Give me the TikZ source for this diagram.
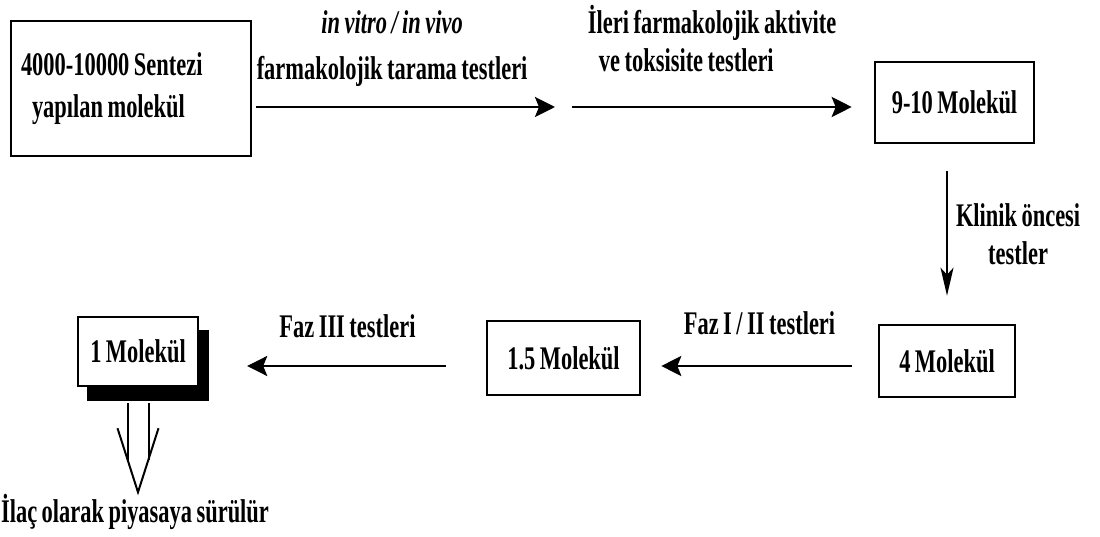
\documentclass[tikz,border=0pt]{standalone}
\usepackage{fontspec}
\setmainfont{Liberation Serif}[FakeStretch=0.68, WordSpace=0.8]
\usetikzlibrary{arrows.meta,positioning,calc}

\begin{document}
\begin{tikzpicture}[x=1pt, y=1pt, every node/.style={font=\fontsize{33}{38}\selectfont\bfseries}, box/.style={rectangle, draw=black, line width=2.6pt, fill=white, inner sep=0pt, align=center}, shadowbox/.style={rectangle, fill=black, inner sep=0pt}, lbl/.style={align=center, inner sep=0pt}, arrow/.style={-{Stealth[length=20pt, width=20pt, inset=4pt]}, line width=2.8pt}, thinarrow/.style={-{Stealth[length=28pt, width=13pt, inset=7pt]}, line width=2pt}, thinline/.style={line width=2pt}]
\useasboundingbox (0,0) rectangle (1100,-537);
\node[box, minimum width=240pt, minimum height=135pt, text width=220pt, align=flush left] (syn) at (131,-88.5) {4000-10000 Sentezi\\[4pt]\hspace*{11pt}yapılan molekül};
\node[box, minimum width=159pt, minimum height=81pt] (nine) at (954.5,-102.5) {9-10 Molekül};
\node[box, minimum width=136pt, minimum height=72pt] (four) at (947,-361) {4 Molekül};
\node[box, minimum width=153pt, minimum height=74pt] (half) at (563.5,-358) {1.5 Molekül};
\node[shadowbox, minimum width=122pt, minimum height=71pt] (oneshd) at (148,-365.5) {};
\node[box, minimum width=120pt, minimum height=69pt] (one) at (138,-351.5) {1 Molekül};
\node[lbl] (drug) at (135,-512) {İlaç olarak piyasaya sürülür};
\coordinate (gap) at (563,-107);
\coordinate (lowline) at (0,-366);
% top row
\draw[arrow, shorten <=4pt, shorten >=8pt] (syn.east |- gap) -- (gap) node[lbl, pos=0.45, above=19pt] {\textit{in vitro / in vivo}\\[8pt]farmakolojik tarama testleri};
\draw[arrow, shorten <=9pt, shorten >=22pt] (gap) -- (nine.west |- gap) node[lbl, align=flush left, pos=0.48, above=34pt] {İleri farmakolojik aktivite\\\hspace*{11pt}ve toksisite testleri};
\draw[thinarrow, shorten <=27pt, shorten >=28pt] (nine.south -| four.north) -- (four.north) node[lbl, midway, right=8pt] {Klinik öncesi\\testler};
% bottom row
\draw[arrow, shorten <=26pt, shorten >=20pt] (four.west |- lowline) -- (half.east |- lowline) node[lbl, midway, above=30pt] {Faz I / II testleri};
\draw[arrow, shorten <=40pt, shorten >=38pt] (half.west |- lowline) -- (oneshd.east |- lowline) node[lbl, midway, above=27pt] {Faz III testleri};
% double arrow to market
\coordinate (dtop) at (one.south |- oneshd.south);
\coordinate (dtip) at ($(dtop)+(0,-91)$);
\draw[thinline] ($(dtop)+(-10.5,-2)$) -- ++(0,-57);
\draw[thinline] ($(dtop)+(10.5,-2)$) -- ++(0,-57);
\draw[thinline] ($(dtop)+(-20.5,-27)$) -- (dtip) -- ($(dtop)+(20.5,-27)$);
\end{tikzpicture}
\end{document}
